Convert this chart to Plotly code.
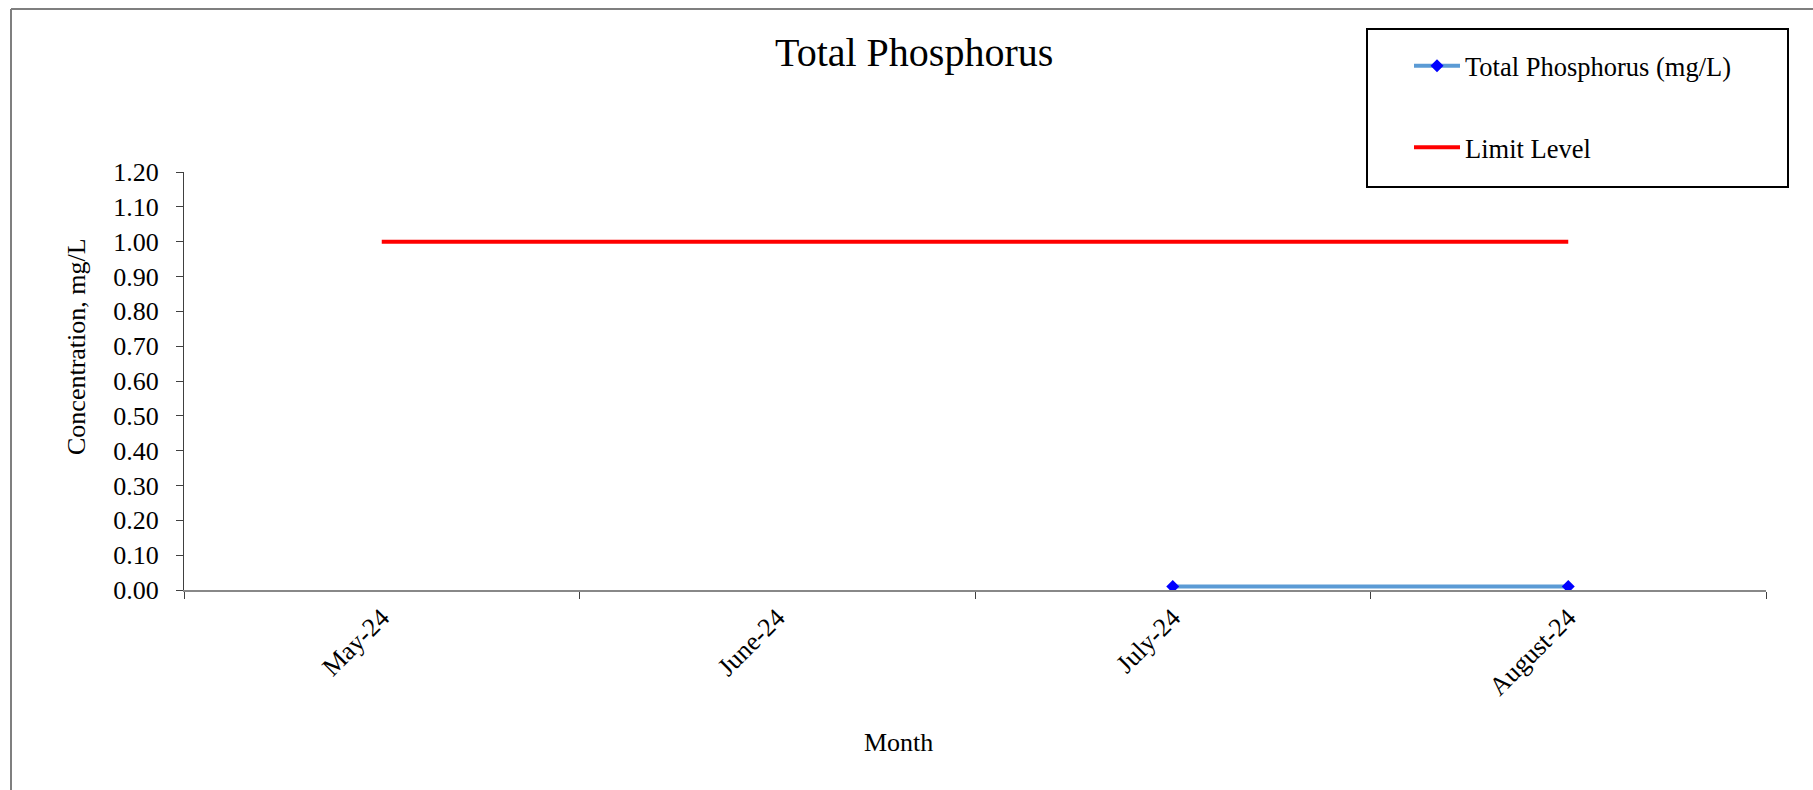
import plotly.graph_objects as go

months = ["May-24", "June-24", "July-24", "August-24"]
total_phosphorus = [None, None, 0.01, 0.01]
limit_level = [1.00, 1.00, 1.00, 1.00]
y_ticks = [0.0, 0.1, 0.2, 0.3, 0.4, 0.5, 0.6, 0.7, 0.8, 0.9, 1.0, 1.1, 1.2]

W, H = 1813, 790
L, R, T, B = 184, 1766, 172, 590
FONT = "Liberation Serif, Times New Roman, serif"


def px(x):
    return (x - L) / (R - L)


def py(y):
    return (B - y) / (B - T)


fig = go.Figure()
fig.add_trace(go.Scatter(
    x=months, y=total_phosphorus, name="Total Phosphorus (mg/L)",
    mode="lines+markers", legendgroup="a",
    line=dict(color="#5B9BD5", width=4),
    marker=dict(symbol="diamond", size=10, color="#0000FF"),
))
fig.add_trace(go.Scatter(
    x=months, y=limit_level, name="Limit Level",
    mode="lines", legendgroup="b",
    line=dict(color="#FF0000", width=4),
))

fig.update_layout(
    width=W, height=H,
    margin=dict(l=L, r=W - R, t=T, b=H - B, pad=0),
    paper_bgcolor="white", plot_bgcolor="white",
    font=dict(family=FONT, size=26, color="black"),
    showlegend=True,
    legend=dict(
        x=px(1409), y=py(42), xanchor="left", yanchor="top",
        bgcolor="rgba(0,0,0,0)", borderwidth=0,
        font=dict(family=FONT, size=26.5, color="black"),
        itemwidth=46, tracegroupgap=44,
    ),
    xaxis=dict(
        type="category", categoryorder="array", categoryarray=months,
        range=[-0.5, len(months) - 0.5],
        tickson="boundaries", ticks="outside", ticklen=7, tickcolor="#404040",
        showline=True, linecolor="#888888", linewidth=2,
        showgrid=False, zeroline=False, tickangle=-45,
        tickfont=dict(family=FONT, size=26, color="black"),
    ),
    yaxis=dict(
        range=[0, 1.2], tickvals=y_ticks, tickformat=".2f",
        ticks="outside", ticklen=7, tickcolor="#404040",
        showline=True, linecolor="#404040", linewidth=1,
        showgrid=False, zeroline=False, ticklabelstandoff=12,
        tickfont=dict(family=FONT, size=26, color="black"),
    ),
    annotations=[
        dict(text="Total Phosphorus", x=px(914), y=py(53), xref="paper", yref="paper",
             showarrow=False, xanchor="center", yanchor="middle",
             font=dict(family=FONT, size=40, color="black")),
        dict(text="Concentration, mg/L", x=px(76), y=py(347), xref="paper", yref="paper",
             showarrow=False, xanchor="center", yanchor="middle", textangle=-90,
             font=dict(family=FONT, size=26, color="black")),
        dict(text="Month", x=px(898), y=py(742), xref="paper", yref="paper",
             showarrow=False, xanchor="center", yanchor="middle",
             font=dict(family=FONT, size=26, color="black")),
    ],
    shapes=[
        dict(type="rect", xref="paper", yref="paper",
             x0=px(1367), x1=px(1788), y0=py(187), y1=py(29),
             line=dict(color="black", width=2), fillcolor="rgba(0,0,0,0)"),
        dict(type="line", xref="paper", yref="paper",
             x0=px(11), x1=px(W + 5), y0=py(9), y1=py(9),
             line=dict(color="#7f7f7f", width=2)),
        dict(type="line", xref="paper", yref="paper",
             x0=px(11), x1=px(11), y0=py(9), y1=py(H + 5),
             line=dict(color="#7f7f7f", width=2)),
    ],
)

fig.write_html(
    "out.html",
    config={"displayModeBar": False},
    post_script="document.body.style.margin='0';document.body.style.overflow='hidden';",
)
